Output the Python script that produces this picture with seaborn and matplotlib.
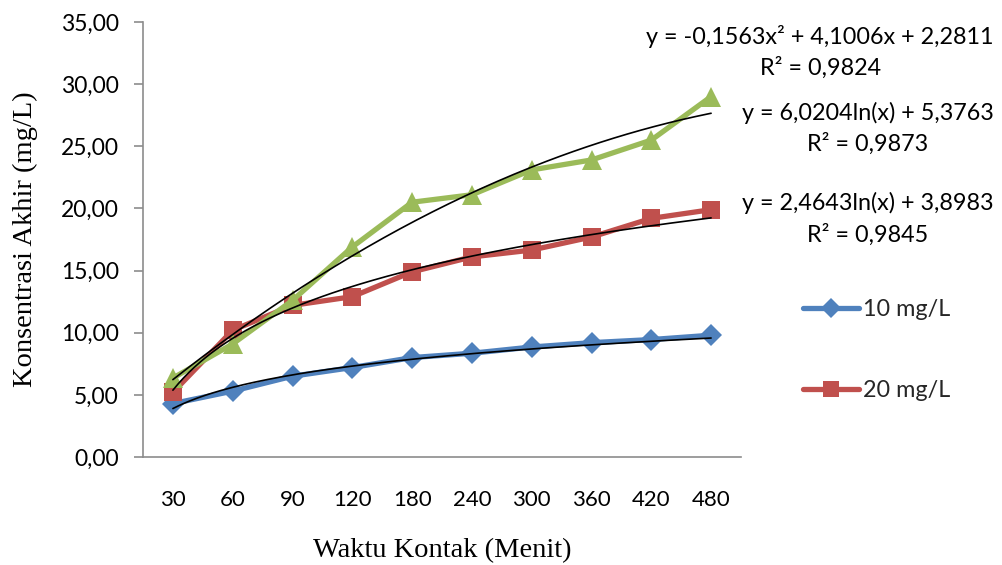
import numpy as np
import pandas as pd
import matplotlib
matplotlib.use("Agg")
import matplotlib.pyplot as plt
import seaborn as sns
from matplotlib.lines import Line2D
from matplotlib.ticker import FuncFormatter

# ---- data ----
categories = ["30", "60", "90", "120", "180", "240", "300", "360", "420", "480"]
s10 = [4.3, 5.3, 6.5, 7.2, 8.0, 8.35, 8.85, 9.2, 9.45, 9.8]
s20 = [5.2, 10.2, 12.2, 12.9, 14.9, 16.1, 16.65, 17.7, 19.2, 19.9]
s30 = [6.35, 9.1, 12.6, 16.9, 20.5, 21.1, 23.1, 23.9, 25.5, 29.0]
series_names = ["10 mg/L", "20 mg/L", "30 mg/L"]
colors = ["#4F81BD", "#C0504D", "#9BBB59"]
markers = ["D", "s", "^"]
marker_sizes = [11, 13, 15]

# trendline coefficients (Excel, x = category index 1..n)
log10_coef = (2.4643, 3.8983)
log20_coef = (6.0204, 5.3763)
poly30_coef = (-0.1563, 4.1006, 2.2811)
eq_texts = [
    ("y = -0,1563x\u00b2 + 4,1006x + 2,2811", "R\u00b2 = 0,9824"),
    ("y = 6,0204ln(x) + 5,3763", "R\u00b2 = 0,9873"),
    ("y = 2,4643ln(x) + 3,8983", "R\u00b2 = 0,9845"),
]

sns.set_theme(style="white")
plt.rcParams["font.family"] = ["Lato", "DejaVu Sans"]

W, H = 1002, 565
fig = plt.figure(figsize=(W / 100, H / 100), dpi=100)
ax = fig.add_axes([143 / W, (H - 457) / H, (741 - 143) / W, (457 - 22) / H])

pos = np.arange(len(categories))
for vals, name, c, m, ms in zip([s10, s20, s30], series_names, colors, markers, marker_sizes):
    df = pd.DataFrame({"pos": pos, "val": vals})
    sns.lineplot(data=df, x="pos", y="val", ax=ax, color=c, linewidth=3.8,
                 marker=m, markersize=ms, markeredgewidth=0, zorder=2, label=None)

# trendlines
xt = np.linspace(1, len(categories), 200)
y10 = log10_coef[0] * np.log(xt) + log10_coef[1]
y20 = log20_coef[0] * np.log(xt) + log20_coef[1]
y30 = poly30_coef[0] * xt ** 2 + poly30_coef[1] * xt + poly30_coef[2]
for yt in (y10, y20, y30):
    ax.plot(xt - 1, yt, color="black", linewidth=1.2, zorder=3)

ax.set_xlim(-0.5, len(categories) - 0.5)
ax.set_ylim(0, 35)
ax.set_yticks(np.arange(0, 35.01, 5))
ax.yaxis.set_major_formatter(FuncFormatter(lambda v, p: f"{v:.2f}".replace(".", ",")))
ax.set_xticks(pos)
ax.set_xticklabels(categories)

for s in ["top", "right"]:
    ax.spines[s].set_visible(False)
for s in ["left", "bottom"]:
    ax.spines[s].set_color("#8c8c8c")
    ax.spines[s].set_linewidth(1.2)
ax.tick_params(axis="y", which="major", length=6.5, width=1.2, color="#8c8c8c",
               left=True, labelsize=16.5, pad=11, labelcolor="black")
ax.tick_params(axis="x", length=0, labelsize=16, pad=24, labelcolor="black")
ax.grid(False)

serif = ["Liberation Serif", "DejaVu Serif"]
ax.set_xlabel("Waktu Kontak (Menit)", fontsize=20.5, family=serif, color="black")
ax.set_ylabel("Konsentrasi Akhir (mg/L)", fontsize=20.5, family=serif, color="black")
ax.xaxis.set_label_coords(0.5, -(551 - 457) / 435)
ax.xaxis.label.set_va("center")
ax.yaxis.set_label_coords((25 - 143) / 598, 0.5)
ax.yaxis.label.set_va("center")
if ax.get_legend() is not None:
    ax.get_legend().remove()

# equations
def ftxt(x, y, s):
    fig.text(x / W, 1 - y / H, s, ha="center", va="center", fontsize=16.8, color="black")

ftxt(820, 37, eq_texts[0][0]); ftxt(821, 68, eq_texts[0][1])
ftxt(868, 113, eq_texts[1][0]); ftxt(868, 144, eq_texts[1][1])
ftxt(868, 203, eq_texts[2][0]); ftxt(868, 235, eq_texts[2][1])

# legend (only two entries visible)
handles = [Line2D([], [], color=colors[i], linewidth=3.8, marker=markers[i],
                  markersize=marker_sizes[i] - 1, markeredgewidth=0) for i in range(2)]
fig.legend(handles, series_names[:2], loc="upper left",
           bbox_to_anchor=(794 / W, 1 - 290 / H), frameon=False, fontsize=16.8,
           handlelength=2.4, handletextpad=0.15, labelspacing=2.55, borderaxespad=0)

fig.savefig("out.png", dpi=100)
